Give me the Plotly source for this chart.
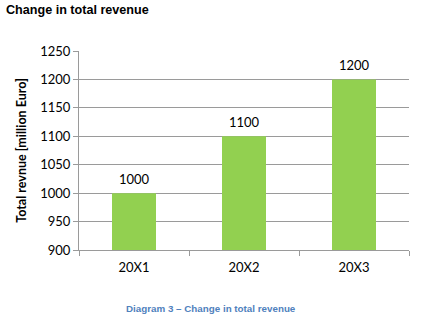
import plotly.graph_objects as go

years = ["20X1", "20X2", "20X3"]
revenue = [1000, 1100, 1200]
y_ticks = [900, 950, 1000, 1050, 1100, 1150, 1200, 1250]

W, H = 423, 323
L, R, T, B = 79, 14, 51, 73
plot_h = H - T - B
label_font = dict(family="Lato, Open Sans, sans-serif", size=13, color="#000000")

fig = go.Figure(
    go.Bar(
        x=years,
        y=revenue,
        marker=dict(color="#92D050", line=dict(width=0)),
        width=0.4,
        hoverinfo="x+y",
    )
)

# value labels floating above each bar
annotations = [
    dict(
        x=yr, y=v, xref="x", yref="y",
        text=str(v), showarrow=False,
        yshift=14, yanchor="middle", xanchor="center",
        font=label_font,
    )
    for yr, v in zip(years, revenue)
]

annotations.append(
    dict(
        text="<b>Diagram 3 – Change in total revenue</b>",
        xref="paper",
        yref="paper",
        x=(211 - L) / (W - L - R),
        y=-(308 - (T + plot_h)) / plot_h,
        xanchor="center",
        yanchor="middle",
        showarrow=False,
        font=dict(family="Liberation Sans, Arial, sans-serif", size=9.8, color="#4F81BD"),
    )
)

fig.update_layout(
    width=W,
    height=H,
    margin=dict(l=L, r=R, t=T, b=B),
    paper_bgcolor="white",
    plot_bgcolor="white",
    showlegend=False,
    title=dict(
        text="<b>Change in total revenue</b>",
        font=dict(family="Liberation Sans, Arial, sans-serif", size=12.6, color="#000000"),
        xref="container",
        yref="container",
        x=6 / W,
        xanchor="left",
        y=1 - 10 / H,
        yanchor="middle",
    ),
    annotations=annotations,
)

fig.update_xaxes(
    showline=True,
    linecolor="#9a9a9a",
    linewidth=1,
    ticks="outside",
    tickson="boundaries",
    ticklen=5,
    tickcolor="#9a9a9a",
    ticklabelstandoff=5,
    showgrid=False,
    tickfont=label_font,
)

fig.update_yaxes(
    range=[900, 1250],
    tickvals=y_ticks,
    showline=True,
    linecolor="#9a9a9a",
    linewidth=1,
    ticks="outside",
    ticklen=5,
    tickcolor="#9a9a9a",
    showgrid=True,
    gridcolor="#9a9a9a",
    gridwidth=1,
    zeroline=False,
    tickfont=label_font,
    title=dict(
        text="<b>Total revnue [million Euro]</b>",
        font=dict(family="Lato, Open Sans, sans-serif", size=12.5, color="#000000"),
        standoff=10,
    ),
)

fig.write_html("out.html")
